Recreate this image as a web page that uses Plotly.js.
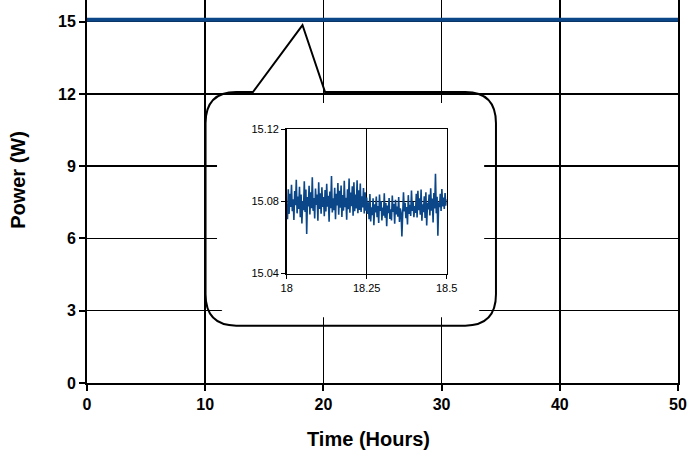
<!DOCTYPE html>
<html>
<head>
<meta charset="utf-8">
<script src="https://cdn.plot.ly/plotly-3.0.1.min.js"></script>
<style>html,body{margin:0;padding:0;background:#fff;}#chart{width:692px;height:450px;}</style>
</head>
<body>
<div id="chart"></div>
<script>
// Main series: power over the whole run
const mainTime = [0, 5, 10, 15, 20, 25, 30, 35, 40, 45, 50];
const mainPower = [15.08, 15.08, 15.08, 15.08, 15.08, 15.08, 15.08, 15.08, 15.08, 15.08, 15.08];

// Inset: zoom of 18 h to 18.5 h, one sample every 0.0025 h
const insetStartHour = 18;
const insetStepHour = 0.0025;
const insetPower = [
15.0785,15.0702,15.0868,15.0731,15.0842,15.0769,15.0893,15.0746,15.0812,15.0697,
15.0858,15.0779,15.0921,15.0734,15.0827,15.0758,15.0881,15.0712,15.0839,15.0678,
15.0803,15.0752,15.0912,15.0741,15.0866,15.0619,15.0824,15.0772,15.0887,15.0728,
15.0851,15.0763,15.0934,15.0748,15.0819,15.0705,15.0872,15.0781,15.0838,15.0693,
15.0907,15.0759,15.0846,15.0732,15.0879,15.0769,15.0825,15.0718,15.0863,15.0744,
15.0898,15.0771,15.0832,15.0688,15.0855,15.0762,15.0941,15.0739,15.0817,15.0752,
15.0876,15.0701,15.0843,15.0778,15.0902,15.0726,15.0859,15.0765,15.0889,15.0714,
15.0836,15.0749,15.0915,15.0768,15.0821,15.0699,15.0868,15.0757,15.0927,15.0738,
15.0849,15.0773,15.0884,15.0721,15.0907,15.0746,15.0838,15.0761,15.0918,15.0734,
15.0862,15.0753,15.0899,15.0742,15.0829,15.0767,15.0874,15.0733,15.0851,15.0748,
15.0822,15.0731,15.0796,15.0702,15.0841,15.0689,15.0768,15.0724,15.0817,15.0668,
15.0785,15.0739,15.0828,15.0712,15.0774,15.0681,15.0839,15.0748,15.0802,15.0695,
15.0766,15.0721,15.0846,15.0709,15.0791,15.0662,15.0778,15.0735,15.0819,15.0703,
15.0757,15.0694,15.0833,15.0742,15.0786,15.0676,15.0809,15.0728,15.0771,15.0715,
15.0824,15.0686,15.0762,15.0739,15.0605,15.0698,15.0851,15.0745,15.0793,15.0707,
15.0769,15.0672,15.0835,15.0731,15.0782,15.0719,15.0861,15.0748,15.0797,15.0712,
15.0774,15.0736,15.0843,15.0711,15.0859,15.0752,15.0818,15.0727,15.0866,15.0693,
15.0784,15.0741,15.0829,15.0708,15.0851,15.0667,15.0792,15.0756,15.0838,15.0722,
15.0873,15.0749,15.0816,15.0683,15.0847,15.0761,15.0954,15.0734,15.0826,15.0609,
15.0795,15.0768,15.0842,15.0747,15.0869,15.0772,15.0821,15.0758,15.0847,15.0776,
15.0813
];

const mainTicksX = [0, 10, 20, 30, 40, 50];
const mainTicksY = [0, 3, 6, 9, 12, 15];
const insetTicksX = [18, 18.25, 18.5];
const insetTickTextX = ['18', '18.25', '18.5'];
const insetTicksY = [15.04, 15.08, 15.12];

const lineColor = '#0b4788';
const boldFont = {family: 'Liberation Sans, Arial, sans-serif', size: 16, color: '#000', weight: 'bold'};
const smallFont = {family: 'Liberation Sans, Arial, sans-serif', size: 11, color: '#000'};

// callout balloon (in main-axis data units)
function balloonPath(x0, x1, y0, y1, rx, ry, ptr) {
  let p = `M ${x0 + rx},${y1} `;
  if (ptr) p += `L ${ptr[0]},${y1} L ${ptr[1]},${ptr[2]} L ${ptr[3]},${y1} `;
  p += `L ${x1 - rx},${y1} Q ${x1},${y1} ${x1},${y1 - ry} `;
  p += `L ${x1},${y0 + ry} Q ${x1},${y0} ${x1 - rx},${y0} `;
  p += `L ${x0 + rx},${y0} Q ${x0},${y0} ${x0},${y0 + ry} `;
  p += `L ${x0},${y1 - ry} Q ${x0},${y1} ${x0 + rx},${y1} Z`;
  return p;
}

const traces = [
  {x: mainTime, y: mainPower, type: 'scatter', mode: 'lines',
   line: {color: lineColor, width: 4}, xaxis: 'x', yaxis: 'y', hoverinfo: 'skip'},
  {y: insetPower, x0: insetStartHour, dx: insetStepHour, type: 'scatter', mode: 'lines',
   line: {color: lineColor, width: 1.6}, xaxis: 'x2', yaxis: 'y2', hoverinfo: 'skip'}
];

const layout = {
  width: 692, height: 450,
  margin: {l: 87, r: 14, t: 0, b: 67, pad: 0},
  paper_bgcolor: '#fff', plot_bgcolor: '#fff',
  showlegend: false,
  xaxis: {
    range: [0, 50], tickvals: mainTicksX, ticks: 'outside', ticklen: 6, tickwidth: 2, tickcolor: '#000',
    showline: true, linecolor: '#000', linewidth: 2, mirror: true,
    showgrid: true, gridcolor: '#000', gridwidth: 1.5, zeroline: false,
    tickfont: boldFont, fixedrange: true
  },
  yaxis: {
    range: [0, 15.9], tickvals: mainTicksY, ticks: 'outside', ticklen: 6, tickwidth: 2, tickcolor: '#000',
    showline: true, linecolor: '#000', linewidth: 2, mirror: true,
    showgrid: true, gridcolor: '#000', gridwidth: 1.5, zeroline: false,
    tickfont: boldFont, fixedrange: true
  },
  xaxis2: {
    domain: [0.3379, 0.6086], anchor: 'y2', range: [18, 18.5],
    tickvals: insetTicksX, ticktext: insetTickTextX, ticks: 'outside', ticklen: 4, tickcolor: '#000',
    showline: true, linecolor: '#000', linewidth: 1.5, mirror: true,
    showgrid: true, gridcolor: '#000', gridwidth: 1.5, zeroline: false,
    tickfont: smallFont, fixedrange: true
  },
  yaxis2: {
    domain: [0.2859, 0.6621], anchor: 'x2', range: [15.04, 15.12],
    tickvals: insetTicksY, tickformat: '.2f', ticks: 'outside', ticklen: 4, tickcolor: '#000',
    showline: true, linecolor: '#000', linewidth: 1.5, mirror: true,
    showgrid: true, gridcolor: '#000', gridwidth: 1.5, zeroline: false,
    tickfont: smallFont, fixedrange: true
  },
  shapes: [
    {type: 'path', xref: 'x', yref: 'y', layer: 'between',
     path: balloonPath(11.0, 33.6, 2.73, 11.62, 1.9, 0.95, null),
     fillcolor: '#fff', line: {width: 0}},
    {type: 'path', xref: 'x', yref: 'y', layer: 'between',
     path: balloonPath(10.03, 34.6, 2.38, 12.08, 2.6, 1.3, [14.04, 18.23, 14.86, 20.14]),
     fillcolor: 'rgba(0,0,0,0)', line: {color: '#000', width: 2}}
  ],
  annotations: [
    {text: 'Time (Hours)', xref: 'paper', yref: 'paper', x: 0.477, y: -0.145,
     xanchor: 'center', yanchor: 'middle', showarrow: false,
     font: {family: 'Liberation Sans, Arial, sans-serif', size: 20, color: '#000', weight: 'bold'}},
    {text: 'Power (W)', xref: 'paper', yref: 'paper', x: -0.117, y: 0.53, textangle: -90,
     xanchor: 'center', yanchor: 'middle', showarrow: false,
     font: {family: 'Liberation Sans, Arial, sans-serif', size: 20, color: '#000', weight: 'bold'}}
  ]
};

Plotly.newPlot('chart', traces, layout, {displayModeBar: false, staticPlot: true});
</script>
</body>
</html>
